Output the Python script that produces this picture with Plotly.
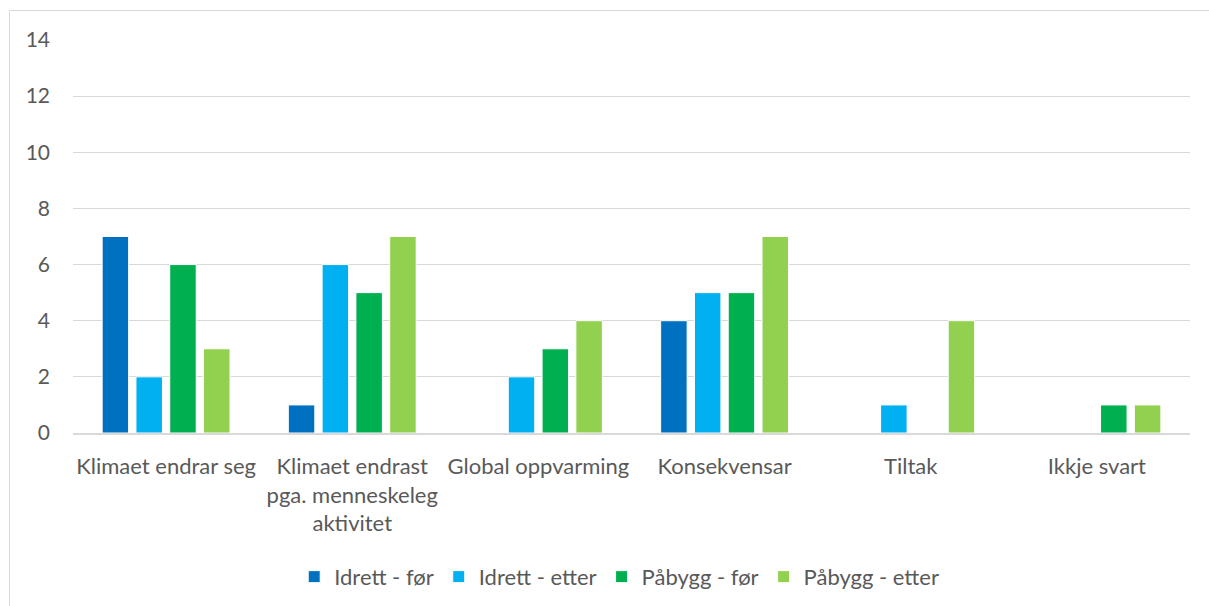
import plotly.graph_objects as go

categories = ["Klimaet endrar seg", "Klimaet endrast<br>pga. menneskeleg<br>aktivitet",
              "Global oppvarming", "Konsekvensar", "Tiltak", "Ikkje svart"]
series_names = ["Idrett - før", "Idrett - etter", "Påbygg - før", "Påbygg - etter"]
idrett_for = [7, 1, None, 4, None, None]
idrett_etter = [2, 6, 2, 5, 1, None]
pabygg_for = [6, 5, 3, 5, None, 1]
pabygg_etter = [3, 7, 4, 7, 4, 1]
y_ticks = [0, 2, 4, 6, 8, 10, 12, 14]

colors = ["#0070C0", "#00B0F0", "#00B050", "#92D050"]
values = [idrett_for, idrett_etter, pabygg_for, pabygg_etter]

FONT = "Lato"
TXT = "#595959"

fig = go.Figure()
for name, vals, col in zip(series_names, values, colors):
    fig.add_trace(go.Bar(x=categories, y=vals, name=name, marker_color=col,
                         marker_line=dict(color="white", width=1)))

fig.update_layout(
    width=1209, height=606,
    margin=dict(l=73, r=19, t=40, b=173, autoexpand=False),
    paper_bgcolor="white", plot_bgcolor="white",
    barmode="group", bargap=0.274, bargroupgap=0.216,
    font=dict(family=FONT, size=22, color=TXT),
    showlegend=True,
    legend=dict(orientation="h", x=0.489, xanchor="center", y=-0.366, yanchor="middle",
                font=dict(family=FONT, size=22, color=TXT), itemwidth=30,
                traceorder="normal", tracegroupgap=0),
    xaxis=dict(showgrid=False, showline=True, linecolor="#D9D9D9", linewidth=1.5,
               ticks="", tickfont=dict(family=FONT, size=22, color=TXT),
               ticklabelstandoff=13, automargin=False),
    yaxis=dict(range=[0, 14], tickvals=y_ticks, showgrid=True, gridcolor="#D9D9D9",
               gridwidth=1, zeroline=False, showline=False, ticks="",
               tickfont=dict(family=FONT, size=21, color=TXT), ticklabelstandoff=22,
               automargin=False),
    shapes=[dict(type="rect", xref="paper", yref="paper",
                 x0=(9.5 - 73) / 1117, x1=(1215 - 73) / 1117,
                 y0=(433 - 620) / 393, y1=(433 - 10.5) / 393,
                 line=dict(color="#D9D9D9", width=1), fillcolor="rgba(0,0,0,0)", layer="below")],
)

fig.write_html("out.html")
